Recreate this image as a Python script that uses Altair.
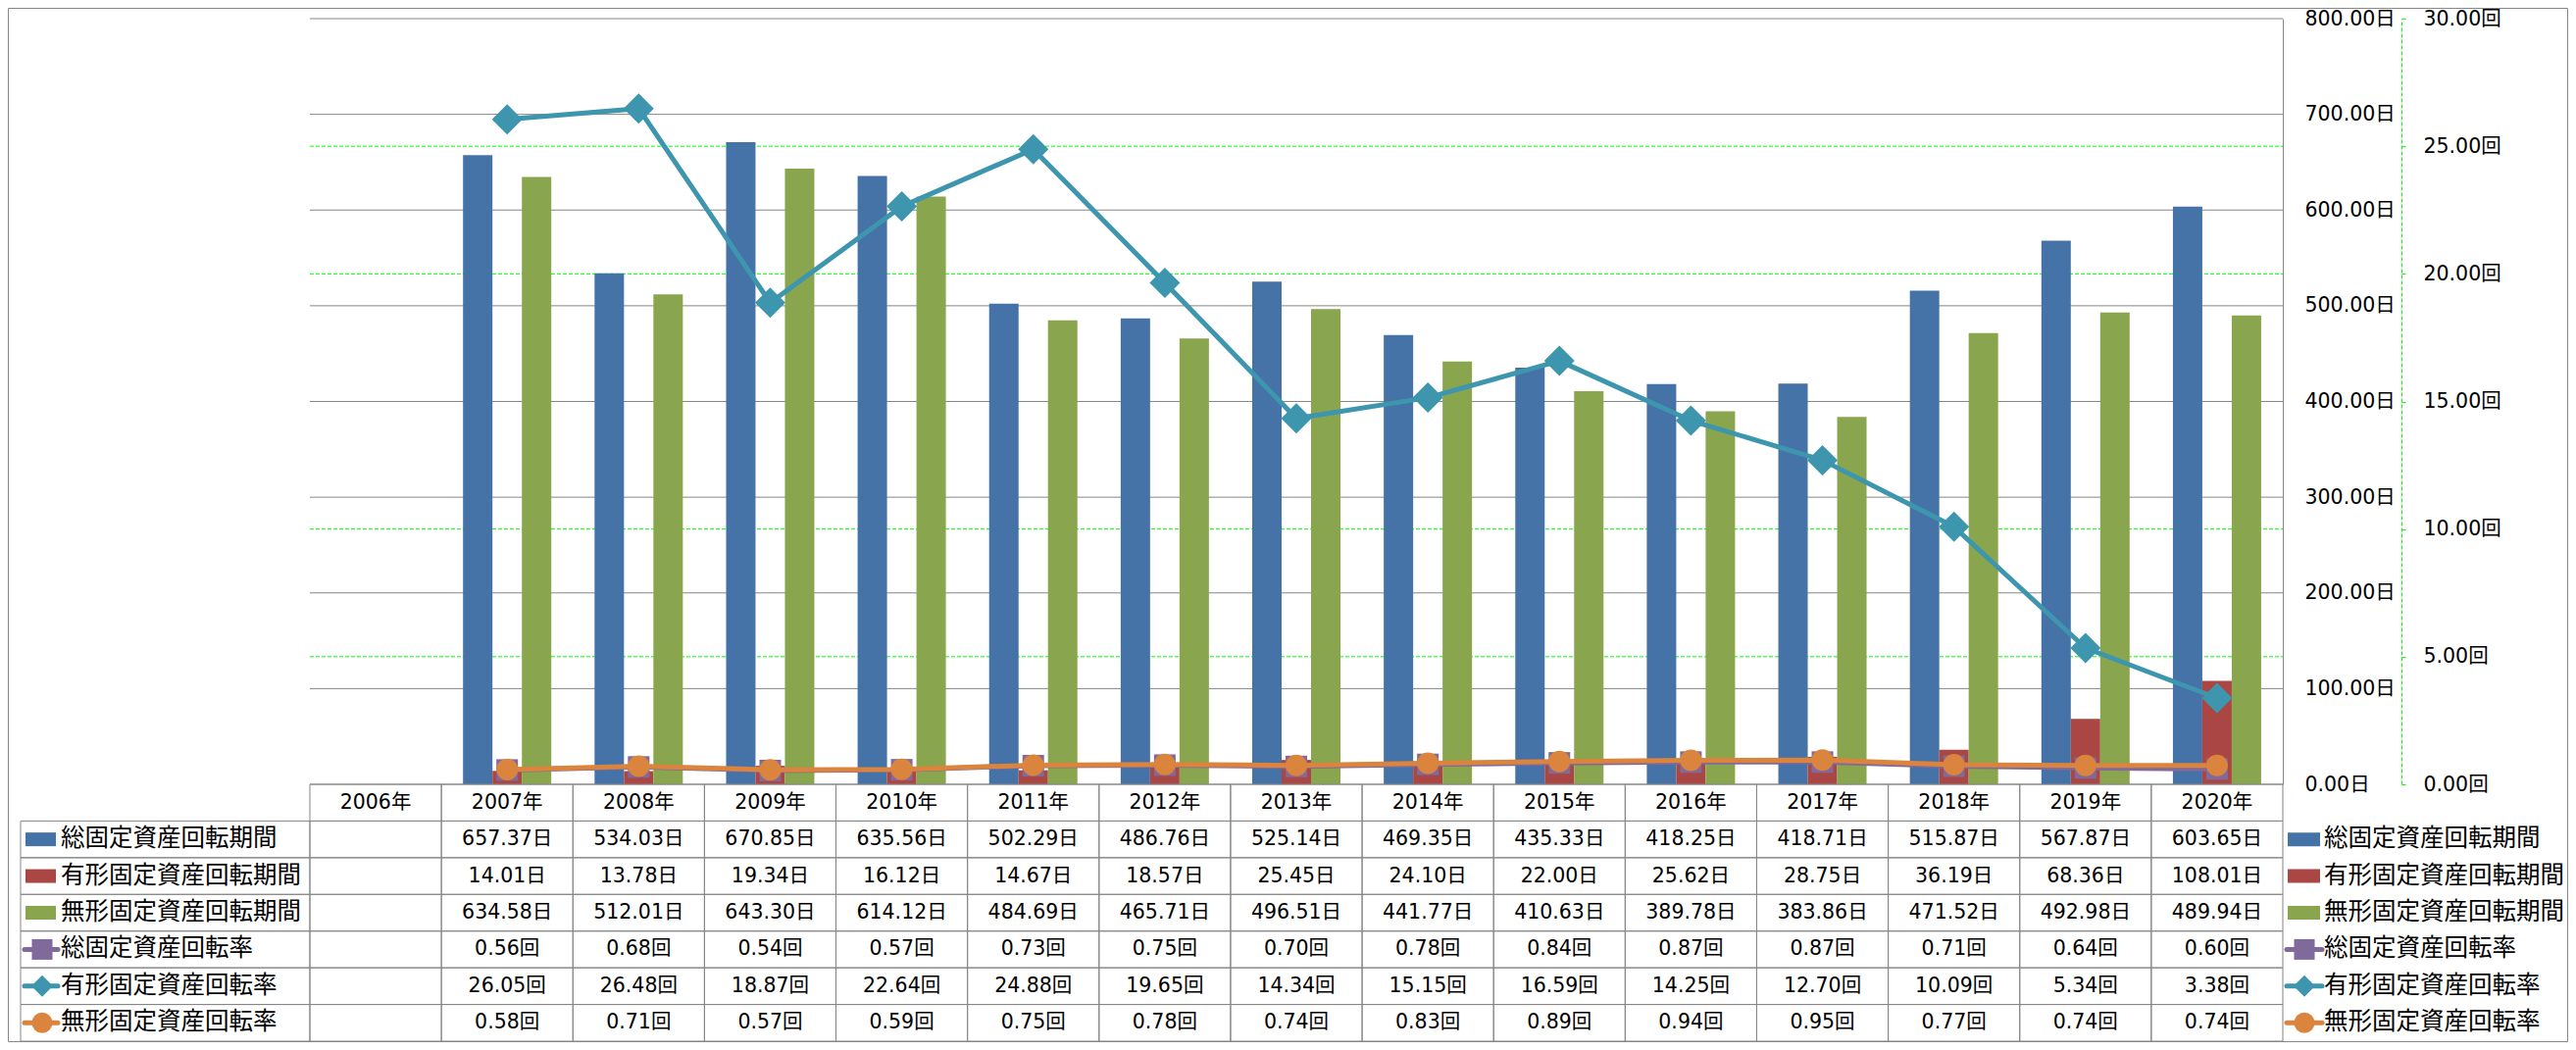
import altair as alt
import pandas as pd

# ---------------- data ----------------
years = ["2006年", "2007年", "2008年", "2009年", "2010年", "2011年", "2012年", "2013年",
         "2014年", "2015年", "2016年", "2017年", "2018年", "2019年", "2020年"]

series_names = ["総固定資産回転期間", "有形固定資産回転期間", "無形固定資産回転期間",
                "総固定資産回転率", "有形固定資産回転率", "無形固定資産回転率"]
colors = ["#4572A7", "#AA4643", "#89A54E", "#80699B", "#3D96AE", "#DB843D"]

total_period = [None, 657.37, 534.03, 670.85, 635.56, 502.29, 486.76, 525.14, 469.35, 435.33, 418.25, 418.71, 515.87, 567.87, 603.65]
tangible_period = [None, 14.01, 13.78, 19.34, 16.12, 14.67, 18.57, 25.45, 24.10, 22.00, 25.62, 28.75, 36.19, 68.36, 108.01]
intangible_period = [None, 634.58, 512.01, 643.30, 614.12, 484.69, 465.71, 496.51, 441.77, 410.63, 389.78, 383.86, 471.52, 492.98, 489.94]
total_turn = [None, 0.56, 0.68, 0.54, 0.57, 0.73, 0.75, 0.70, 0.78, 0.84, 0.87, 0.87, 0.71, 0.64, 0.60]
tangible_turn = [None, 26.05, 26.48, 18.87, 22.64, 24.88, 19.65, 14.34, 15.15, 16.59, 14.25, 12.70, 10.09, 5.34, 3.38]
intangible_turn = [None, 0.58, 0.71, 0.57, 0.59, 0.75, 0.78, 0.74, 0.83, 0.89, 0.94, 0.95, 0.77, 0.74, 0.74]

primary_ticks = [0, 100, 200, 300, 400, 500, 600, 700, 800]
secondary_ticks = [0, 5, 10, 15, 20, 25, 30]
secondary_grid = [5, 10, 15, 20, 25]

period_series = series_names[:3]
rate_series = series_names[3:]
period_values = [total_period, tangible_period, intangible_period]
rate_values = [total_turn, tangible_turn, intangible_turn]
rate_shapes = ["square", "diamond", "circle"]
rate_sizes = [484, 961, 484]
legend_marker_sizes = [441, 484, 441]

# ---------------- styling ----------------
TOP = 11
LEFT = 308
W, H = 2012, 781
TABLE_H = 262
TABLE_BOTTOM = H + TABLE_H
CANVAS_W, CANVAS_H = 2611, 1055
GRAY = "#868686"
GREEN = "#00FF00"
NUM_FONT = '"DejaVu Sans", "Noto Sans CJK JP"'
CJK_FONT = '"Noto Sans CJK JP"'
NUM_SIZE = 20.5
CJK_SIZE = 24.5

# ---------------- tables ----------------
bar_rows = []
for name, vals in zip(period_series, period_values):
    for yr, v in zip(years, vals):
        if v is not None:
            bar_rows.append({"year": yr, "series": name, "value": v})
bars_df = pd.DataFrame(bar_rows)

rate_frames = []
for name, vals in zip(rate_series, rate_values):
    rows = [{"year": yr, "series": name, "value": v} for yr, v in zip(years, vals) if v is not None]
    rate_frames.append(pd.DataFrame(rows))

rows_domain = ["header"] + series_names
text_rows = [{"year": yr, "row": "header", "label": yr} for yr in years]
for name, vals in zip(period_series, period_values):
    for yr, v in zip(years, vals):
        if v is not None:
            text_rows.append({"year": yr, "row": name, "label": f"{v:.2f}日"})
for name, vals in zip(rate_series, rate_values):
    for yr, v in zip(years, vals):
        if v is not None:
            text_rows.append({"year": yr, "row": name, "label": f"{v:.2f}回"})
text_df = pd.DataFrame(text_rows)

cells_df = pd.DataFrame([{"year": yr, "row": r} for r in rows_domain for yr in years])
label_cells_df = pd.DataFrame({"row": series_names, "series": series_names})
legend_bar_df = pd.DataFrame({"row": period_series, "series": period_series})

# ---------------- encodings ----------------
x_scale = alt.Scale(type="band", domain=years, paddingInner=0, paddingOuter=0)
x_band = alt.X("year:N", scale=x_scale, axis=None, sort=None)
x_center = alt.X("year:N", scale=x_scale, axis=None, sort=None, bandPosition=0.5)
color_scale = alt.Scale(domain=series_names, range=colors)
color_enc = alt.Color("series:N", scale=color_scale, legend=None)

y_table_scale = alt.Scale(type="band", domain=rows_domain, range=[H, TABLE_BOTTOM],
                          paddingInner=0, paddingOuter=0)
y_table = alt.Y("row:N", scale=y_table_scale, axis=None, sort=None)
y_table_c = alt.Y("row:N", scale=y_table_scale, axis=None, sort=None, bandPosition=0.5)

primary_axis = alt.Axis(
    orient="right", values=primary_ticks,
    labelExpr="format(datum.value, '.2f') + '日'",
    grid=False,
    ticks=False, tickSize=0,
    domain=True, domainColor=GRAY, domainWidth=1,
    labelAlign="left", labelBaseline="middle", labelPadding=22,
    labelFont=NUM_FONT, labelFontSize=NUM_SIZE, labelColor="#000000",
    title=None,
)
secondary_axis = alt.Axis(
    orient="right", offset=121, values=secondary_ticks,
    labelExpr="format(datum.value, '.2f') + '回'",
    grid=False, ticks=True, tickSize=4, tickColor=GREEN, tickWidth=1,
    domain=True, domainColor=GREEN, domainDash=[4, 2], domainWidth=1,
    labelAlign="left", labelBaseline="middle", labelPadding=18,
    labelFont=NUM_FONT, labelFontSize=NUM_SIZE, labelColor="#000000",
    title=None,
)

# ---------------- layers ----------------
green_grid = alt.Chart(pd.DataFrame({"v": secondary_grid})).mark_rule(
    color=GREEN, strokeDash=[4, 2], strokeWidth=1
).encode(
    y=alt.Y("v:Q", scale=alt.Scale(domain=[0, 30], nice=False), axis=None),
    x=alt.value(0), x2=alt.value(W),
)

y_primary = alt.Y("value:Q", scale=alt.Scale(domain=[0, 800], nice=False), axis=primary_axis)
gray_grid = alt.Chart(pd.DataFrame({"value": primary_ticks})).mark_rule(
    color=GRAY, strokeWidth=1
).encode(y=y_primary, x=alt.value(0), x2=alt.value(W))

bars = alt.Chart(bars_df).mark_bar().encode(
    x=x_band,
    xOffset=alt.XOffset("series:N", sort=None,
                        scale=alt.Scale(domain=period_series, paddingInner=0, paddingOuter=0.7355)),
    y=y_primary,
    color=color_enc,
)
primary = alt.layer(gray_grid, bars)

y_sec = alt.Y("value:Q", scale=alt.Scale(domain=[0, 30], nice=False), axis=secondary_axis)
rate_layers = []
for df, shape, size in zip(rate_frames, rate_shapes, rate_sizes):
    rate_layers.append(
        alt.Chart(df).mark_line(strokeWidth=5, strokeCap="round", strokeJoin="round").encode(
            x=x_center, y=y_sec, color=color_enc)
    )
    rate_layers.append(
        alt.Chart(df).mark_point(filled=True, shape=shape, size=size, opacity=1, strokeWidth=0).encode(
            x=x_center, y=y_sec, color=color_enc)
    )
secondary = alt.layer(*rate_layers)

# table
cells = alt.Chart(cells_df).mark_rect(fillOpacity=0, stroke=GRAY, strokeWidth=1).encode(
    x=x_band, y=y_table)
label_cells = alt.Chart(label_cells_df).mark_rect(fillOpacity=0, stroke=GRAY, strokeWidth=1).encode(
    x=alt.value(-295), x2=alt.value(0), y=y_table)
cell_text = alt.Chart(text_df).mark_text(
    font=NUM_FONT, fontSize=NUM_SIZE, align="center", baseline="middle", color="#000000"
).encode(x=x_center, y=y_table_c, text="label:N")

table_layers = [cells, label_cells, cell_text]
for sym_x0, sym_x1, mark_x, text_x in [(-290, -259, -273, -254), (2017, 2050, 2034, 2054)]:
    table_layers.append(
        alt.Chart(legend_bar_df).mark_rule(strokeWidth=14, strokeCap="butt").encode(
            x=alt.value(sym_x0), x2=alt.value(sym_x1), y=y_table_c, color=color_enc)
    )
    for name, shape, msize in zip(rate_series, rate_shapes, legend_marker_sizes):
        ldf = pd.DataFrame({"row": [name], "series": [name]})
        table_layers.append(
            alt.Chart(ldf).mark_rule(strokeWidth=5, strokeCap="round").encode(
                x=alt.value(sym_x0 - 1), x2=alt.value(sym_x1 + 2), y=y_table_c, color=color_enc)
        )
        table_layers.append(
            alt.Chart(ldf).mark_point(filled=True, shape=shape, size=msize, opacity=1, strokeWidth=0).encode(
                x=alt.value(mark_x), y=y_table_c, color=color_enc)
        )
    table_layers.append(
        alt.Chart(label_cells_df).mark_text(
            font=CJK_FONT, fontSize=CJK_SIZE, align="left", baseline="middle", color="#000000"
        ).encode(x=alt.value(text_x), y=y_table_c, text="row:N")
    )
table = alt.layer(*table_layers)

border = alt.Chart(pd.DataFrame({"a": [0]})).mark_rect(
    fillOpacity=0, stroke=GRAY, strokeWidth=1
).encode(
    x=alt.value(-LEFT + 0.5), x2=alt.value(CANVAS_W - LEFT - 0.5),
    y=alt.value(-TOP + 0.5), y2=alt.value(CANVAS_H - TOP - 0.5),
)

chart = alt.layer(green_grid, primary, secondary, table, border).resolve_scale(
    y="independent"
).properties(
    width=W, height=H,
    padding={"left": LEFT, "top": TOP, "right": CANVAS_W - LEFT - W, "bottom": CANVAS_H - TOP - H},
    autosize=alt.AutoSizeParams(type="none"),
    background="#FFFFFF",
).configure_view(strokeOpacity=0)

chart.save("out.html", embed_options={"renderer": "svg", "actions": False})
